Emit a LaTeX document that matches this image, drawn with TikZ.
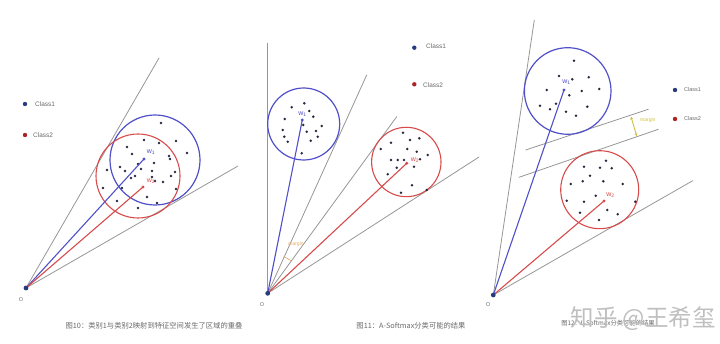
\documentclass[tikz,border=0pt]{standalone}
\usepackage{fontspec}
\setmainfont{Liberation Sans}
\newfontfamily\cjk{Noto Sans CJK SC}
\usetikzlibrary{arrows.meta}

\definecolor{rayc}{RGB}{150,150,150}
\definecolor{bluec}{RGB}{80,80,200}
\definecolor{redc}{RGB}{215,75,75}
\definecolor{dotc}{RGB}{40,40,60}
\definecolor{leg1}{RGB}{40,60,125}
\definecolor{leg2}{RGB}{175,35,35}
\definecolor{capc}{RGB}{105,105,105}
\definecolor{marginc}{RGB}{205,190,60}
\definecolor{arcc}{RGB}{230,170,100}

\begin{document}
\begin{tikzpicture}[x=1pt, y=-1pt, line cap=round, line join=round,
  ray/.style={draw=rayc, line width=0.8pt},
  bluering/.style={draw=bluec, line width=1.2pt},
  redring/.style={draw=redc, line width=1.1pt},
  bluevec/.style={draw=bluec, line width=1.1pt},
  redvec/.style={draw=redc, line width=1.1pt},
  legendtext/.style={anchor=west, inner sep=0pt, text=capc, font=\fontsize{6.5}{8}\selectfont},
  wlabel/.style={inner sep=0pt, font=\fontsize{7}{8}\selectfont},
  olabel/.style={inner sep=0pt, text=capc, font=\fontsize{5.5}{7}\selectfont},
  caption/.style={inner sep=0pt, text=capc, font=\cjk\fontsize{7.3}{9}\selectfont}]

  %% ════ 图10：重叠 ════
  \coordinate (oA) at (26,288);
  \coordinate (rA1) at (159,58);
  \coordinate (rA2) at (238,166);
  \coordinate (wA1) at (144,159);
  \coordinate (wA2) at (143,187);
  \draw[ray] (oA) -- (rA1);
  \draw[ray] (oA) -- (rA2);
  \draw[bluering] (155,160) circle (45);
  \draw[redring] (138,176) circle (42);
  \fill[dotc] (161,123) circle (1.4) (144,140) circle (1.4) (159,143) circle (1.4)
    (176,141) circle (1.4) (127,147) circle (1.4) (132,154) circle (1.4)
    (169,156) circle (1.4) (170,159) circle (1.4) (187,153) circle (1.4)
    (120,167) circle (1.4) (125,171) circle (1.4) (107,170) circle (1.4)
    (138,164) circle (1.4) (141,169) circle (1.4) (152,171) circle (1.4)
    (154,163) circle (1.4) (175,172) circle (1.4) (171,176) circle (1.4)
    (135,176) circle (1.4) (131,178) circle (1.4) (152,177) circle (1.4)
    (155,181) circle (1.4) (163,182) circle (1.4) (103,188) circle (1.4)
    (122,188) circle (1.4) (176,189) circle (1.4) (147,197) circle (1.4)
    (117,201) circle (1.4) (157,203) circle (1.4) (138,208) circle (1.4);
  \draw[bluevec] (oA) -- (wA1);
  \draw[redvec] (oA) -- (wA2);
  \fill[bluec] (wA1) circle (1.6);
  \fill[redc] (wA2) circle (1.6);
  \node[wlabel, text=bluec] (lwA1) at (151,152) {w\textsubscript{1}};
  \node[wlabel, text=redc] (lwA2) at (151,181) {w\textsubscript{2}};
  \fill[leg1] (oA) circle (2.4);
  \node[olabel] (lOA) at (21,300) {O};
  % 图例
  \fill[leg1] (25,104) circle (2.2);
  \node[legendtext] (lgA1) at (35,104) {Class1};
  \fill[leg2] (25,135) circle (2.2);
  \node[legendtext] (lgA2) at (33,135) {Class2};

  %% ════ 图11：A-Softmax ════
  \coordinate (oB) at (267.7,293.3);
  \coordinate (rB1) at (267.7,43.3);
  \coordinate (rB2) at (366.7,75);
  \coordinate (rB3) at (396.7,116.7);
  \coordinate (rB4) at (479,157);
  \coordinate (wB1) at (302.3,120);
  \coordinate (wB2) at (406.7,163.3);
  \draw[ray] (oB) -- (rB1);
  \draw[ray] (oB) -- (rB2);
  \draw[ray] (oB) -- (rB3);
  \draw[ray] (oB) -- (rB4);
  \draw[bluering] (303.7,124) circle (36);
  \draw[redring] (406.3,162) circle (34.7);
  \fill[dotc] (291.7,107.3) circle (1.4) (304.3,103.3) circle (1.4) (309.3,111) circle (1.4)
    (313.3,116.7) circle (1.4) (284.7,119) circle (1.4) (321.7,126) circle (1.4)
    (303.3,125) circle (1.4) (282.7,130) circle (1.4) (306.7,131.7) circle (1.4)
    (316,131) circle (1.4) (284.3,136.7) circle (1.4) (317.7,136.7) circle (1.4)
    (287.7,141.7) circle (1.4) (310.7,140.7) circle (1.4) (301.7,153.3) circle (1.4);
  \fill[dotc] (403,132.7) circle (1.4) (410,140) circle (1.4) (419.3,138.3) circle (1.4)
    (391,142.7) circle (1.4) (380.7,149) circle (1.4) (407.3,149) circle (1.4)
    (416.7,151.7) circle (1.4) (427.7,155) circle (1.4) (391,160) circle (1.4)
    (397.7,160) circle (1.4) (404,160) circle (1.4) (420,159.3) circle (1.4)
    (396.7,167.7) circle (1.4) (414,166.7) circle (1.4) (387.7,174.3) circle (1.4)
    (412,185.3) circle (1.4) (401,192.7) circle (1.4) (426.7,190) circle (1.4);
  \draw[bluevec] (oB) -- (wB1);
  \draw[redvec] (oB) -- (wB2);
  \fill[bluec] (wB1) circle (1.6);
  \fill[redc] (wB2) circle (1.6);
  \node[wlabel, text=bluec] (lwB1) at (302.5,114) {w\textsubscript{1}};
  \node[wlabel, text=redc] (lwB2) at (415,160) {w\textsubscript{2}};
  % margin 角（y 轴向下，角度取负）
  \draw[arcc, line width=0.7pt] ([shift={(-54:40)}]oB) arc[start angle=-54, end angle=-66, radius=40];
  \node[inner sep=0pt, text=arcc, font=\fontsize{5}{6}\selectfont] (mgB) at (296,244) {margin};
  \fill[leg1] (oB) circle (2.4);
  \node[olabel] (lOB) at (262,305) {O};
  % 图例
  \fill[leg1] (414.3,47.7) circle (2.2);
  \node[legendtext] (lgB1) at (426,46.5) {Class1};
  \fill[leg2] (414.3,84.3) circle (2.2);
  \node[legendtext] (lgB2) at (423,85) {Class2};

  %% ════ 图12：L-Softmax ════
  \coordinate (oC) at (493.3,295);
  \coordinate (rC1) at (534.3,20);
  \coordinate (rC2) at (692.7,180.7);
  \coordinate (mC1a) at (525.7,150);
  \coordinate (mC1b) at (648.3,109.3);
  \coordinate (mC2a) at (519,177.3);
  \coordinate (mC2b) at (658.3,129.3);
  \coordinate (wC1) at (564,90);
  \coordinate (wC2) at (604,201);
  \draw[ray] (oC) -- (rC1);
  \draw[ray] (oC) -- (rC2);
  \draw[ray] (mC1a) -- (mC1b);
  \draw[ray] (mC2a) -- (mC2b);
  \draw[bluering] (567.7,91) circle (43.3);
  \draw[redring] (599.7,189.7) circle (39);
  \fill[dotc] (574,60.7) circle (1.4) (559,76) circle (1.4) (572.3,79.3) circle (1.4)
    (588.7,77.3) circle (1.4) (546.7,90) circle (1.4) (581.7,91) circle (1.4)
    (599.3,89) circle (1.4) (569.3,95.3) circle (1.4) (556,103.7) circle (1.4)
    (540,105.7) circle (1.4) (550,109.3) circle (1.4) (566,111.7) circle (1.4)
    (587.3,106.7) circle (1.4) (576,115.7) circle (1.4);
  \fill[dotc] (606,160.7) circle (1.4) (584,166.7) circle (1.4) (600,167.7) circle (1.4)
    (611.7,168.3) circle (1.4) (590,175.7) circle (1.4) (570.7,184) circle (1.4)
    (582.7,181.3) circle (1.4) (603.3,181.3) circle (1.4) (622.7,184) circle (1.4)
    (595.7,195.7) circle (1.4) (566.7,200.7) circle (1.4) (584,201.7) circle (1.4)
    (635.3,201.7) circle (1.4) (580,212.7) circle (1.4) (607.3,210) circle (1.4)
    (617.7,214.3) circle (1.4) (599,220) circle (1.4);
  \draw[bluevec] (oC) -- (wC1);
  \draw[redvec] (oC) -- (wC2);
  \fill[bluec] (wC1) circle (1.6);
  \fill[redc] (wC2) circle (1.6);
  \node[wlabel, text=bluec] (lwC1) at (566.5,82) {w\textsubscript{1}};
  \node[wlabel, text=redc] (lwC2) at (610.5,195) {w\textsubscript{2}};
  % margin 箭头
  \coordinate (mgCa) at (631,116.7);
  \coordinate (mgCb) at (636.7,136);
  \draw[marginc, line width=0.9pt, {Stealth[length=3pt,width=3pt]}-{Stealth[length=3pt,width=3pt]}] (mgCa) -- (mgCb);
  \node[anchor=west, inner sep=0pt, text=marginc, font=\fontsize{5}{6}\selectfont] (mgC) at (640,120) {margin};
  \fill[leg1] (oC) circle (2.4);
  \node[olabel] (lOC) at (488.3,305) {O};
  % 图例
  \fill[leg1] (675,90) circle (2.2);
  \node[legendtext, font=\fontsize{5.5}{7}\selectfont] (lgC1) at (684,90) {Class1};
  \fill[leg2] (675,119) circle (2.2);
  \node[legendtext, font=\fontsize{5.5}{7}\selectfont] (lgC2) at (684,119) {Class2};

  %% ════ 标题 ════
  \node[caption] (capA) at (154,326) {图10：类别1与类别2映射到特征空间发生了区域的重叠};
  \node[caption] (capB) at (411,326) {图11：A-Softmax分类可能的结果};
  \node[caption, font=\cjk\fontsize{6.3}{8}\selectfont] (capC) at (608,323) {图12：L-Softmax分类可能的结果};
  % 水印压在图12标题上
  \node[inner sep=0pt, text=black!25, font=\cjk\fontsize{23.5}{28}\selectfont] (wm) at (643,319) {知乎 @王希玺};

  \pgfresetboundingbox
  \path[use as bounding box] (0,0) rectangle (720,344);
\end{tikzpicture}
\end{document}
